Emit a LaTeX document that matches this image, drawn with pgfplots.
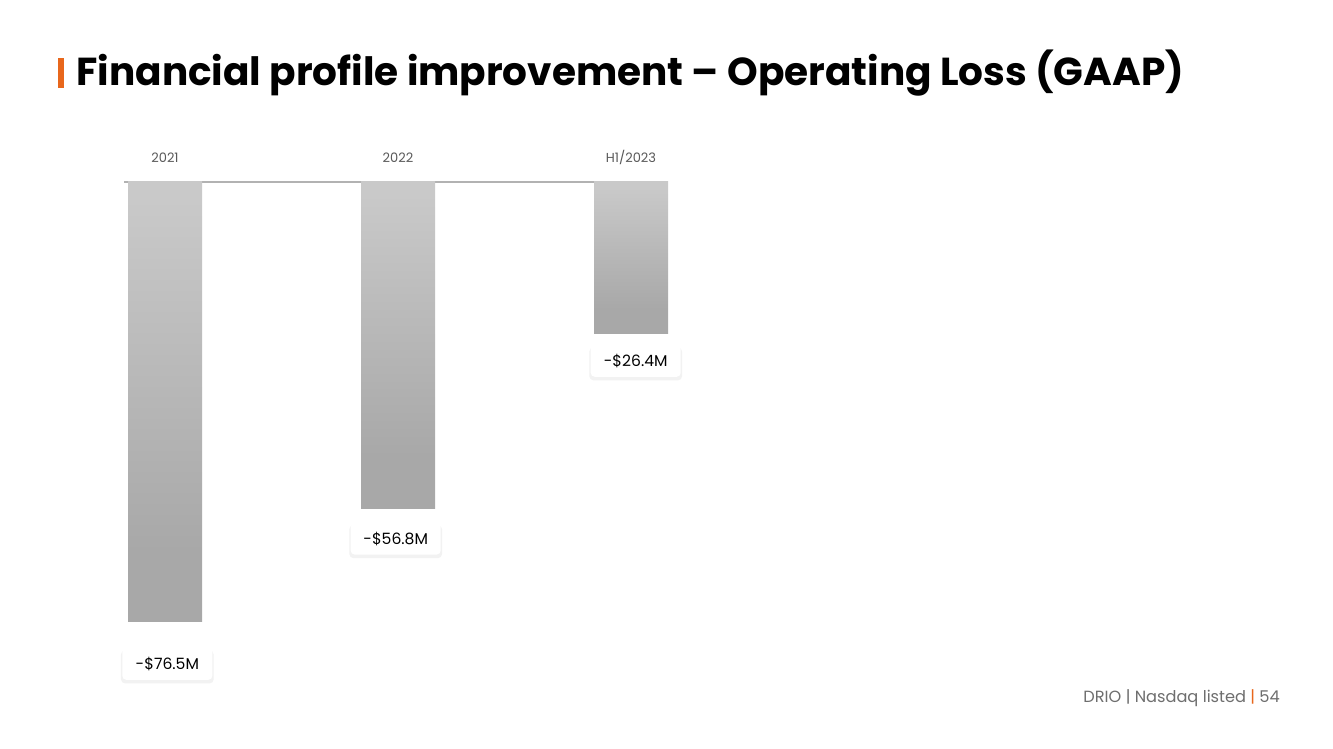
\documentclass[border=0pt]{standalone}
\usepackage{pgfplots}
\pgfplotsset{compat=1.18}
\usepackage{fontspec}
\setmainfont{Poppins}
\usetikzlibrary{shadows}
\definecolor{orangeacc}{HTML}{E8671C}
\definecolor{barlight}{HTML}{C9C9C9}
\definecolor{bardark}{HTML}{A8A8A8}
\definecolor{ticktxt}{HTML}{595959}
\definecolor{foot}{HTML}{6E6E6E}
\pgfdeclareverticalshading{barshade}{100bp}{color(0bp)=(bardark); color(33bp)=(bardark); color(73bp)=(barlight); color(100bp)=(barlight)}
\begin{document}
\begin{tikzpicture}[
  valbox/.style={fill=white, rounded corners=2pt, minimum width=45pt, minimum height=16pt, inner sep=0pt,
    font=\fontsize{7.8pt}{9pt}\selectfont, text=black,
    drop shadow={opacity=0.10, shadow xshift=0pt, shadow yshift=-1.5pt, shadow scale=1.03}}]
\path[fill=white] (0,0) rectangle (666.5pt,374.5pt);
% title
\fill[orangeacc] (29pt,330.5pt) rectangle (32pt,345.5pt);
\node[anchor=base west, inner sep=0pt, font=\fontsize{19.5pt}{24pt}\selectfont\bfseries] at (38pt,331.5pt) {Financial profile improvement – Operating Loss (GAAP)};
% footer
\node[anchor=base west, inner sep=0pt, font=\fontsize{8.1pt}{9pt}\selectfont, text=foot] at (541.5pt,23pt) {DRIO {\textbar} Nasdaq listed \textcolor{orangeacc}{\textbar} 54};
\begin{axis}[
  at={(62pt,24.5pt)}, anchor=south west,
  width=271pt, height=259pt, scale only axis,
  xmin=-0.176, xmax=2.150, ymin=-90.09, ymax=0,
  clip=false,
  axis x line*=top, axis y line=none,
  x axis line style={color=black!30, line width=0.6pt, -},
  xtick={0,1,2}, xticklabels={2021,2022,H1/2023},
  major tick length=0pt,
  xticklabel style={anchor=base, yshift=9.5pt, font=\fontsize{6.5pt}{8pt}\selectfont, text=ticktxt},
  ytick=\empty,
]
\addplot[ybar, bar width=37pt, bar shift=0pt, draw=none, shade, shading=barshade] coordinates {(0,-76.5)};
\addplot[ybar, bar width=37pt, bar shift=0pt, draw=none, shade, shading=barshade] coordinates {(1,-56.8)};
\addplot[ybar, bar width=37pt, bar shift=0pt, draw=none, shade, shading=barshade] coordinates {(2,-26.4)};
\node[valbox] at (axis cs:0.01,-76.5) [yshift=-21pt] {-\$76.5M};
\node[valbox] at (axis cs:0.99,-56.8) [yshift=-15pt] {-\$56.8M};
\node[valbox] at (axis cs:2.02,-26.4) [yshift=-13.5pt] {-\$26.4M};
\end{axis}
\end{tikzpicture}
\end{document}
